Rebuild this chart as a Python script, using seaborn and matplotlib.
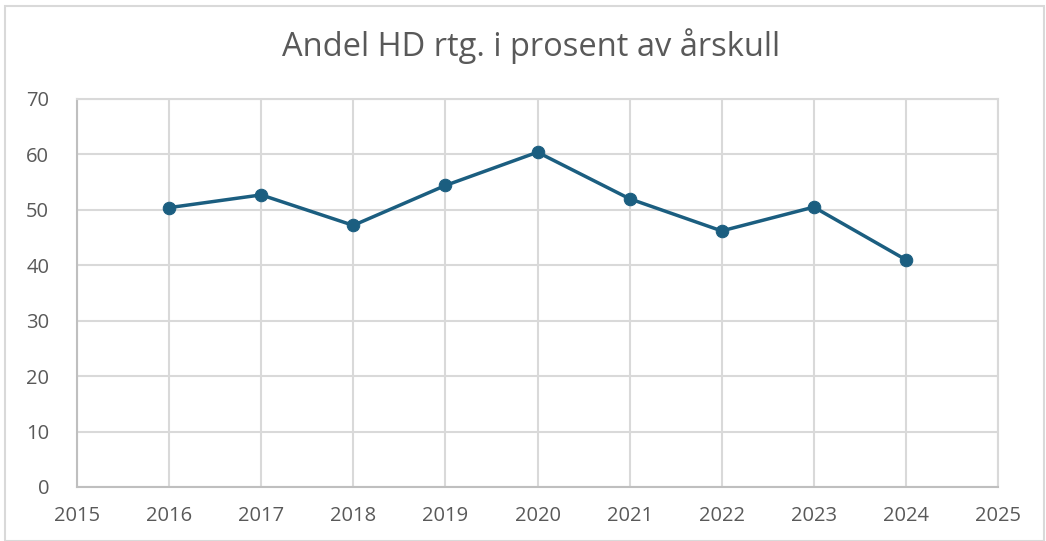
import matplotlib
matplotlib.use("Agg")
import matplotlib.pyplot as plt
import seaborn as sns
import pandas as pd
from matplotlib.patches import Rectangle

years = [2016, 2017, 2018, 2019, 2020, 2021, 2022, 2023, 2024]
andel = [50.4, 52.7, 47.2, 54.4, 60.4, 52.0, 46.2, 50.5, 41.0]
x_ticks = list(range(2015, 2026))
y_ticks = list(range(0, 71, 10))

df = pd.DataFrame({"year": years, "andel": andel})

sns.set_style("white")
plt.rcParams["font.family"] = ["Open Sans", "DejaVu Sans"]

line_col = "#1b5e80"
txt_col = "#595959"
grid_col = "#d9d9d9"

fig = plt.figure(figsize=(10.46, 5.41), dpi=100)
ax = fig.add_axes([77 / 1046, 1 - 487 / 541, (998 - 77) / 1046, (487 - 99) / 541])

sns.lineplot(data=df, x="year", y="andel", ax=ax, color=line_col, linewidth=2.5,
             marker="o", markersize=9, markeredgecolor=line_col, zorder=3)

ax.set_xlim(2015, 2025)
ax.set_ylim(0, 70)
ax.set_xticks(x_ticks)
ax.set_yticks(y_ticks)
ax.set_xlabel("")
ax.set_ylabel("")
ax.grid(True, color=grid_col, linewidth=1.5)
ax.tick_params(axis="both", length=0, labelsize=14.5, labelcolor=txt_col)
ax.tick_params(axis="x", pad=14)
ax.tick_params(axis="y", pad=20)

for s in ["top", "right"]:
    ax.spines[s].set_color(grid_col)
    ax.spines[s].set_linewidth(1.5)
for s in ["left", "bottom"]:
    ax.spines[s].set_color("#bfbfbf")
    ax.spines[s].set_linewidth(1.5)

fig.text(531 / 1046, 1 - 46 / 541, "Andel HD rtg. i prosent av årskull",
         ha="center", va="center", fontsize=23.5, color=txt_col)

fig.patches.append(Rectangle((5 / 1046, 0), 1 - 5 / 1046 - 0.002, 1 - 6 / 541,
                             transform=fig.transFigure, fill=False,
                             edgecolor=grid_col, linewidth=1.5))

fig.savefig("out.png", dpi=100, facecolor="white")
